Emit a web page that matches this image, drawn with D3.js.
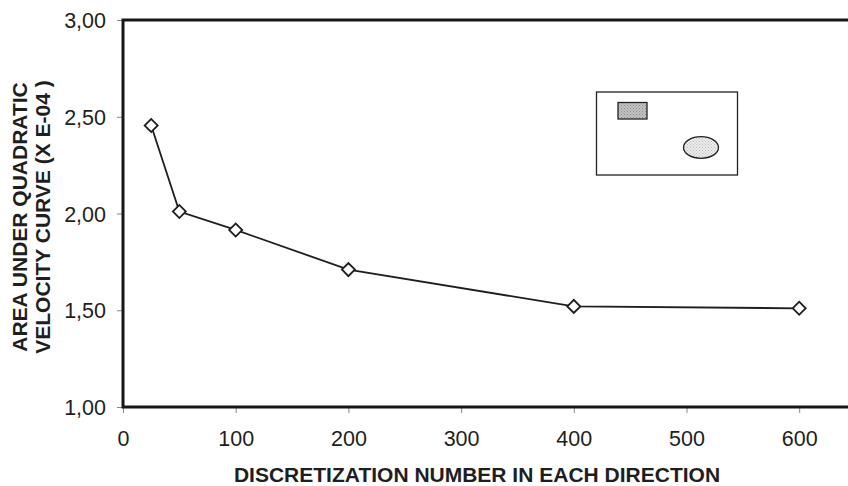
<!DOCTYPE html>
<html>
<head>
<meta charset="utf-8">
<script src="https://cdn.jsdelivr.net/npm/d3@7"></script>
<style>
  html, body { margin: 0; padding: 0; background: #fff; overflow: hidden; }
  svg { display: block; }
  text { font-family: "Liberation Sans", Arial, Helvetica, sans-serif; fill: #1e1e1e; }
</style>
</head>
<body>
<script>
// Discretization study: area under the quadratic velocity curve
const discretization = [25, 50, 100, 200, 400, 600];
const areaValues = [2.455, 2.01, 1.915, 1.71, 1.52, 1.51];
const xTickValues = [0, 100, 200, 300, 400, 500, 600];
const yTickValues = [1.0, 1.5, 2.0, 2.5, 3.0];
const xTitle = "DISCRETIZATION NUMBER IN EACH DIRECTION";
const yTitleLines = ["AREA UNDER QUADRATIC", "VELOCITY CURVE (X E-04 )"];

const W = 848, H = 486;
const plotLeft = 123, plotTop = 20, plotBottom = 407;
const pxPer100 = 112.7;
const tickFont = 21.5, titleFont = 21;

const svg = d3.select("body").append("svg")
  .attr("width", W).attr("height", H);

const x = d3.scaleLinear().domain([0, 700]).range([plotLeft, plotLeft + 7 * pxPer100]);
const y = d3.scaleLinear().domain([1, 3]).range([plotBottom, plotTop]);

const comma = v => d3.format(".2f")(v).replace(".", ",");

// halftone fills for the inset sketch
const defs = svg.append("defs");
function halftone(id, bg, dot) {
  const p = defs.append("pattern").attr("id", id)
    .attr("patternUnits", "userSpaceOnUse").attr("width", 3).attr("height", 3);
  p.append("rect").attr("width", 3).attr("height", 3).attr("fill", bg);
  p.append("rect").attr("x", 0).attr("y", 0).attr("width", 1).attr("height", 1).attr("fill", dot);
  p.append("rect").attr("x", 1.5).attr("y", 1.5).attr("width", 1).attr("height", 1).attr("fill", dot);
}
halftone("darkDots", "#c4c4c4", "#8a8a8a");
halftone("lightDots", "#ececec", "#bdbdbd");

// Axes
const xAxis = svg.append("g").attr("transform", `translate(0,${plotBottom})`)
  .call(d3.axisBottom(x).tickValues(xTickValues).tickSize(6).tickFormat(d => d));
xAxis.select(".domain").remove();
xAxis.selectAll(".tick line").attr("stroke", "#888").attr("stroke-width", 1);
xAxis.selectAll(".tick text")
  .attr("font-size", tickFont).attr("dy", null).attr("y", 38.5);

const yAxis = svg.append("g").attr("transform", `translate(${plotLeft},0)`)
  .call(d3.axisLeft(y).tickValues(yTickValues).tickSize(6).tickFormat(comma));
yAxis.select(".domain").remove();
yAxis.selectAll(".tick line").attr("stroke", "#888").attr("stroke-width", 1);
yAxis.selectAll(".tick text")
  .attr("font-size", tickFont).attr("x", -17).attr("dy", "0.35em");
svg.selectAll(".tick text").attr("font-family", "Liberation Sans, Arial, sans-serif").attr("fill", "#1e1e1e");

// Plot frame: left, top and bottom edges run off to the right
const frameRight = x(700) + 10;
svg.append("path")
  .attr("d", `M${frameRight},${plotTop}H${plotLeft}V${plotBottom}H${frameRight}`)
  .attr("fill", "none").attr("stroke", "#161616").attr("stroke-width", 3);

// Inset sketch of the domain
const inset = svg.append("g");
inset.append("rect").attr("x", 596.5).attr("y", 92).attr("width", 141).attr("height", 83)
  .attr("fill", "none").attr("stroke", "#222").attr("stroke-width", 1.3);
inset.append("rect").attr("x", 618).attr("y", 102.5).attr("width", 29).attr("height", 16.5)
  .attr("fill", "url(#darkDots)").attr("stroke", "#222").attr("stroke-width", 1.3);
inset.append("ellipse").attr("cx", 701).attr("cy", 147.5).attr("rx", 17.5).attr("ry", 10.8)
  .attr("fill", "url(#lightDots)").attr("stroke", "#222").attr("stroke-width", 1.3);

// Data line with diamond markers
const pts = discretization.map((d, i) => [d, areaValues[i]]);
svg.append("path")
  .datum(pts)
  .attr("d", d3.line().x(d => x(d[0])).y(d => y(d[1])))
  .attr("fill", "none").attr("stroke", "#1e1e1e").attr("stroke-width", 1.8);

svg.append("g").selectAll("path")
  .data(pts).join("path")
  .attr("transform", d => `translate(${x(d[0])},${y(d[1])}) rotate(45)`)
  .attr("d", "M-4.6,-4.6H4.6V4.6H-4.6Z")
  .attr("fill", "#fff").attr("stroke", "#1e1e1e").attr("stroke-width", 1.8);

// Axis titles
svg.append("text")
  .attr("x", 477).attr("y", 481.5)
  .attr("text-anchor", "middle")
  .attr("font-size", titleFont).attr("font-weight", "bold")
  .text(xTitle);

const yTitle = svg.append("text")
  .attr("transform", "translate(0,217) rotate(-90)")
  .attr("text-anchor", "middle")
  .attr("font-size", titleFont).attr("font-weight", "bold");
yTitle.selectAll("tspan").data(yTitleLines).join("tspan")
  .attr("x", 0).attr("y", (d, i) => 27 + i * 23)
  .text(d => d);
</script>
</body>
</html>
